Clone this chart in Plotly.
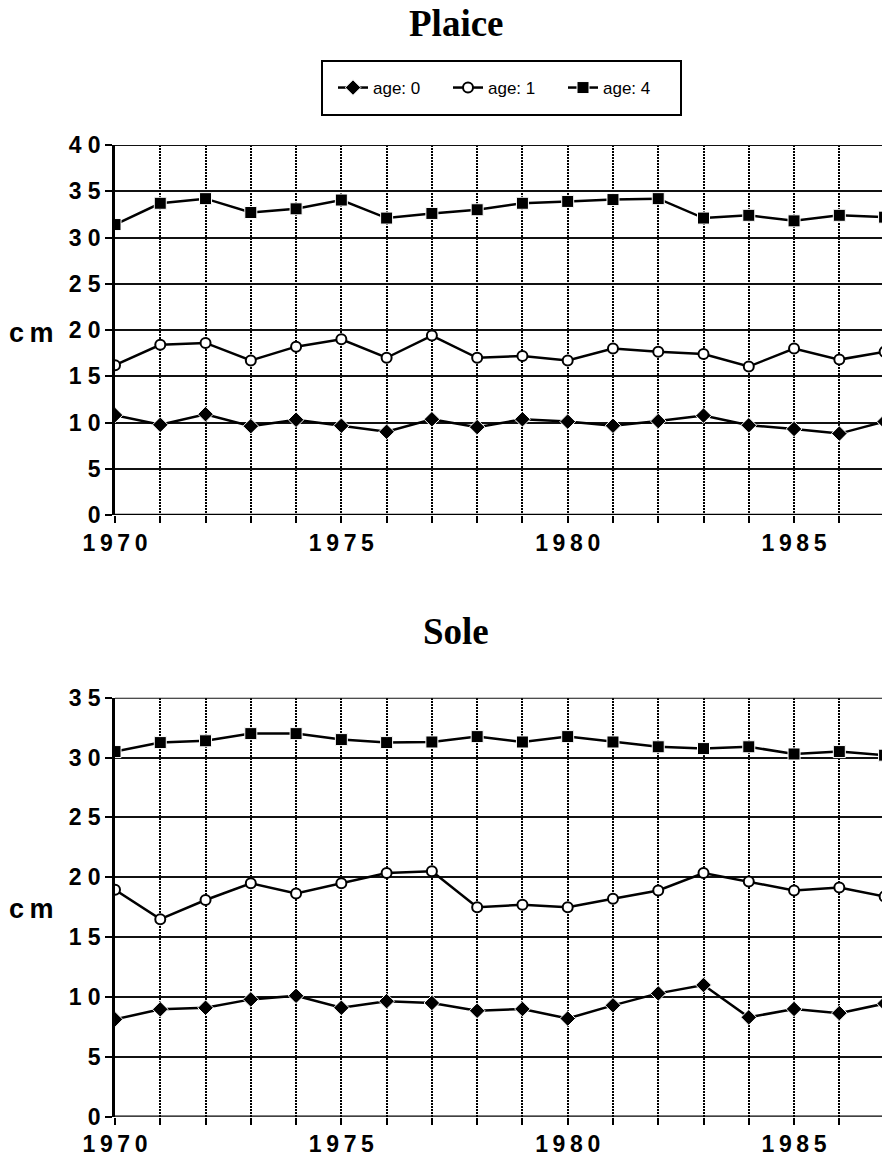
import plotly.graph_objects as go

# Years of the survey
years = list(range(1970, 1988))

# Mean length (cm) by age group — Plaice
plaice_age0 = [10.8, 9.75, 10.9, 9.6, 10.3, 9.65, 9.0, 10.35, 9.5, 10.35, 10.1, 9.65, 10.15, 10.75, 9.7, 9.3, 8.8, 10.1]
plaice_age1 = [16.2, 18.4, 18.6, 16.7, 18.2, 19.0, 17.0, 19.4, 17.0, 17.2, 16.7, 18.0, 17.65, 17.4, 16.05, 18.0, 16.8, 17.65]
plaice_age4 = [31.4, 33.7, 34.2, 32.7, 33.1, 34.05, 32.1, 32.6, 33.0, 33.7, 33.9, 34.1, 34.2, 32.1, 32.4, 31.8, 32.4, 32.2]

# Mean length (cm) by age group — Sole
sole_age0 = [8.13, 8.97, 9.1, 9.8, 10.1, 9.1, 9.65, 9.5, 8.85, 9.0, 8.2, 9.3, 10.3, 11.0, 8.3, 9.0, 8.65, 9.45]
sole_age1 = [18.95, 16.5, 18.1, 19.5, 18.65, 19.5, 20.35, 20.5, 17.5, 17.7, 17.5, 18.2, 18.9, 20.35, 19.65, 18.9, 19.15, 18.4]
sole_age4 = [30.5, 31.25, 31.4, 32.0, 32.0, 31.5, 31.25, 31.3, 31.75, 31.3, 31.75, 31.3, 30.9, 30.75, 30.9, 30.3, 30.5, 30.2]

series_names = ["age: 0", "age: 1", "age: 4"]
panel_titles = ["Plaice", "Sole"]
y_label = "c\u2009m"

W, H = 882, 1159
L = 115
PX_PER_YEAR = 45.27


def py(px):
    """Convert a pixel row (from the top) to paper y."""
    return 1 - px / H


def pxx(px):
    """Convert a pixel column to paper x."""
    return (px - L) / (W - L)


marker_styles = [
    dict(symbol="diamond", size=12, color="black", line=dict(color="white", width=1)),
    dict(symbol="circle", size=10, color="white", line=dict(color="black", width=2)),
    dict(symbol="square", size=12, color="black", line=dict(color="white", width=1)),
]

fig = go.Figure()

panels = [
    (plaice_age0, plaice_age1, plaice_age4, "x", "y", True),
    (sole_age0, sole_age1, sole_age4, "x2", "y2", False),
]
for a0, a1, a4, xa, ya, show in panels:
    for vals, name, mk in zip([a0, a1, a4], series_names, marker_styles):
        fig.add_trace(go.Scatter(
            x=years, y=vals, name=name, mode="lines+markers",
            line=dict(color="black", width=2.5), marker=mk,
            xaxis=xa, yaxis=ya, showlegend=show, cliponaxis=True,
        ))

tick_font = dict(family="Liberation Sans, Arial, sans-serif", size=23, color="black", weight="bold")
x_ticktext = ["\u2009".join(str(y)) if y % 5 == 0 else "" for y in years]

xaxis_common = dict(
    range=[1970, 1970 + (W - L) / PX_PER_YEAR],
    tickvals=years, ticktext=x_ticktext,
    ticks="outside", ticklen=7, tickwidth=2, tickcolor="black",
    tickfont=tick_font, automargin=False,
    showgrid=True, gridcolor="black", gridwidth=1.5, griddash="2px,1px",
    showline=False, zeroline=False,
)


def yaxis_common(top, domain, anchor):
    vals = list(range(0, top + 1, 5))
    return dict(
        range=[0, top], domain=domain, anchor=anchor,
        tickvals=vals, ticktext=[" ".join(str(v)) for v in vals],
        ticks="outside", ticklen=7, tickwidth=2, tickcolor="black",
        tickfont=tick_font, automargin=False,
        showgrid=True, gridcolor="#111", gridwidth=2,
        showline=True, linecolor="black", linewidth=2.5,
        zeroline=False,
    )


fig.update_layout(
    width=W, height=H,
    margin=dict(l=L, r=0, t=0, b=0, autoexpand=False),
    paper_bgcolor="white", plot_bgcolor="white",
    showlegend=True,
    xaxis=dict(**xaxis_common, anchor="y"),
    xaxis2=dict(**xaxis_common, anchor="y2"),
    yaxis=yaxis_common(40, [py(515), py(145)], "x"),
    yaxis2=yaxis_common(35, [py(1116.7), py(697.7)], "x2"),
    legend=dict(
        orientation="h", x=pxx(333), xanchor="left",
        y=py(88), yanchor="middle",
        borderwidth=0, bgcolor="rgba(0,0,0,0)",
        font=dict(family="Liberation Sans, Arial, sans-serif", size=17, color="black"),
        itemwidth=30, entrywidth=70,
    ),
)

# Legend frame
fig.add_shape(type="rect", xref="paper", yref="paper",
              x0=pxx(322), x1=pxx(681), y0=py(115), y1=py(61),
              line=dict(color="black", width=2), layer="below")

# Bottom axis line and top frame line of each panel
for xa, ya, top in [("x", "y", 40), ("x2", "y2", 35)]:
    fig.add_shape(type="line", xref=xa + " domain", yref=ya, x0=0, x1=1, y0=0, y1=0,
                  line=dict(color="black", width=2.5))
    fig.add_shape(type="line", xref=xa + " domain", yref=ya, x0=0, x1=1, y0=top, y1=top,
                  line=dict(color="#111", width=2))

title_font = dict(family="Liberation Serif, Times New Roman, serif", size=37, color="black", weight="bold")
for text, ypx in zip(panel_titles, [23, 631]):
    fig.add_annotation(text=text, xref="paper", yref="paper",
                       x=pxx(456), y=py(ypx), showarrow=False,
                       font=title_font, xanchor="center", yanchor="middle")

label_font = dict(family="Liberation Sans, Arial, sans-serif", size=27, color="black", weight="bold")
for ypx in [333, 909]:
    fig.add_annotation(text=y_label, xref="paper", yref="paper",
                       x=pxx(31), y=py(ypx), showarrow=False,
                       font=label_font, xanchor="center", yanchor="middle")

fig.write_html("out.html")
